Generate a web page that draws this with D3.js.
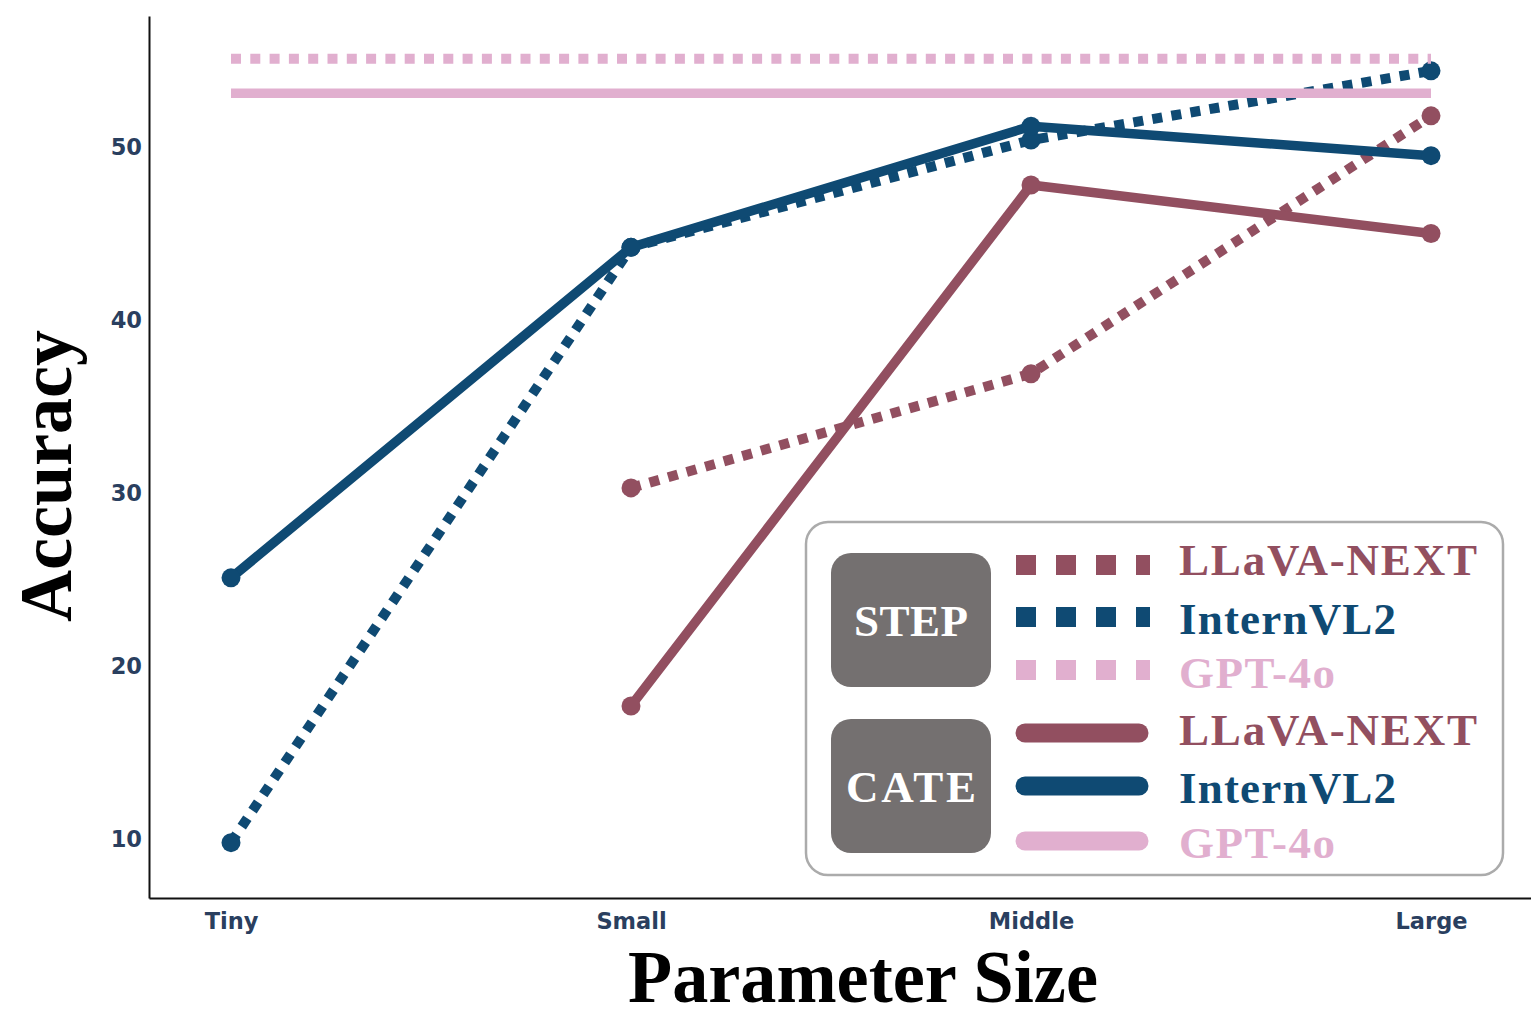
<!DOCTYPE html>
<html>
<head>
<meta charset="utf-8">
<script src="https://cdn.jsdelivr.net/npm/d3@7"></script>
<style>
  html, body { margin: 0; padding: 0; background: #ffffff; }
  svg { display: block; }
</style>
</head>
<body>
<svg id="chart" width="1531" height="1010"></svg>
<script>
// ---------------- data ----------------
const categories = ["Tiny", "Small", "Middle", "Large"];
const yTicks = [10, 20, 30, 40, 50];

const stepLLaVA      = [null, 30.3, 36.9, 51.8];
const stepInternVL2  = [9.8, 44.2, 50.4, 54.4];
const stepGPT4o      = [55.1, 55.1, 55.1, 55.1];
const cateLLaVA      = [null, 17.7, 47.8, 45.0];
const cateInternVL2  = [25.1, 44.2, 51.2, 49.5];
const cateGPT4o      = [53.1, 53.1, 53.1, 53.1];

const modelNames = ["LLaVA-NEXT", "InternVL2", "GPT-4o"];
const groupNames = ["STEP", "CATE"];

// ---------------- styling ----------------
const colors = { "LLaVA-NEXT": "#924f60", "InternVL2": "#0f4a73", "GPT-4o": "#e1afcf" };
const tickColor = "#2a3f5f";

const series = [
  { group: "STEP", model: "LLaVA-NEXT", values: stepLLaVA, markers: true },
  { group: "STEP", model: "InternVL2", values: stepInternVL2, markers: true },
  { group: "STEP", model: "GPT-4o", values: stepGPT4o, markers: false },
  { group: "CATE", model: "LLaVA-NEXT", values: cateLLaVA, markers: true },
  { group: "CATE", model: "InternVL2", values: cateInternVL2, markers: true },
  { group: "CATE", model: "GPT-4o", values: cateGPT4o, markers: false }
];

const svg = d3.select("#chart");
const plot = { left: 149, right: 1531, top: 16, bottom: 898 };

const x = d3.scaleLinear().domain([-0.205, 3.25]).range([plot.left, plot.right]);
const y = d3.scaleLinear().domain([6.6, 57.57]).range([plot.bottom, plot.top]);

// axes
const yAxis = d3.axisLeft(y).tickValues(yTicks).tickSize(0).tickPadding(7);
const gy = svg.append("g").attr("transform", `translate(${plot.left},0)`).call(yAxis);
gy.select(".domain").attr("stroke", "#111").attr("stroke-width", 2);
gy.selectAll("text")
  .attr("fill", tickColor)
  .style("font-family", "'DejaVu Sans', Verdana, sans-serif")
  .style("font-weight", "bold")
  .style("font-size", "22.5px");

const xAxis = d3.axisBottom(x).tickValues(d3.range(categories.length))
  .tickFormat(i => categories[i]).tickSize(0).tickPadding(15);
const gx = svg.append("g").attr("transform", `translate(0,${plot.bottom})`).call(xAxis);
gx.select(".domain").attr("stroke", "#111").attr("stroke-width", 2);
gx.selectAll("text")
  .attr("fill", tickColor)
  .style("font-family", "'DejaVu Sans', Verdana, sans-serif")
  .style("font-weight", "bold")
  .style("font-size", "22.5px");

// axis titles
svg.append("text")
  .attr("x", 863).attr("y", 1002)
  .attr("text-anchor", "middle")
  .attr("textLength", 470).attr("lengthAdjust", "spacingAndGlyphs")
  .style("font-family", "'Liberation Serif', 'Times New Roman', serif")
  .style("font-weight", "bold").style("font-size", "75px")
  .attr("fill", "#000").text("Parameter Size");

svg.append("text")
  .attr("transform", "translate(71,476) rotate(-90)")
  .attr("text-anchor", "middle")
  .attr("textLength", 292).attr("lengthAdjust", "spacingAndGlyphs")
  .style("font-family", "'Liberation Serif', 'Times New Roman', serif")
  .style("font-weight", "bold").style("font-size", "74px")
  .attr("fill", "#000").text("Accuracy");

// lines
const line = d3.line()
  .defined(d => d.v !== null)
  .x(d => x(d.i)).y(d => y(d.v));

const linesG = svg.append("g");
series.forEach(s => {
  const pts = s.values.map((v, i) => ({ i, v }));
  const path = linesG.append("path")
    .datum(pts)
    .attr("d", line)
    .attr("fill", "none")
    .attr("stroke", colors[s.model])
    .attr("stroke-width", s.group === "STEP" ? 10 : 9.5)
    .attr("stroke-linejoin", "round");
  if (s.group === "STEP") {
    path.attr("stroke-dasharray", "10,9.3");
  }
  if (s.markers) {
    linesG.selectAll(null)
      .data(pts.filter(d => d.v !== null))
      .enter().append("circle")
      .attr("cx", d => x(d.i)).attr("cy", d => y(d.v))
      .attr("r", 9.5)
      .attr("fill", colors[s.model]);
  }
});

// legend
const lg = svg.append("g");
lg.append("rect")
  .attr("x", 806).attr("y", 522).attr("width", 697).attr("height", 353)
  .attr("rx", 22).attr("ry", 22)
  .attr("fill", "#fff").attr("stroke", "#ababab").attr("stroke-width", 2.5);

const groupBoxes = [
  { name: "STEP", y0: 553, base: 636, len: 114 },
  { name: "CATE", y0: 719, base: 802, len: 130 }
];
groupBoxes.forEach(g => {
  lg.append("rect")
    .attr("x", 831).attr("y", g.y0).attr("width", 160).attr("height", 134)
    .attr("rx", 20).attr("ry", 20).attr("fill", "#747070");
  lg.append("text")
    .attr("x", 911).attr("y", g.base).attr("text-anchor", "middle")
    .attr("textLength", g.len).attr("lengthAdjust", "spacing")
    .style("font-family", "'Liberation Serif', 'Times New Roman', serif")
    .style("font-weight", "bold").style("font-size", "45px")
    .attr("fill", "#fff").text(g.name);
});

const legendRows = [
  { group: "STEP", model: "LLaVA-NEXT", cy: 565, base: 575, len: 298 },
  { group: "STEP", model: "InternVL2", cy: 617, base: 634, len: 217 },
  { group: "STEP", model: "GPT-4o", cy: 670, base: 688, len: 156 },
  { group: "CATE", model: "LLaVA-NEXT", cy: 733, base: 745, len: 298 },
  { group: "CATE", model: "InternVL2", cy: 786, base: 803, len: 217 },
  { group: "CATE", model: "GPT-4o", cy: 841, base: 858, len: 156 }
];
legendRows.forEach(r => {
  if (r.group === "STEP") {
    lg.append("line")
      .attr("x1", 1016).attr("x2", 1150).attr("y1", r.cy).attr("y2", r.cy)
      .attr("stroke", colors[r.model]).attr("stroke-width", 20)
      .attr("stroke-dasharray", "20,20");
  } else {
    lg.append("line")
      .attr("x1", 1025).attr("x2", 1139).attr("y1", r.cy).attr("y2", r.cy)
      .attr("stroke", colors[r.model]).attr("stroke-width", 19)
      .attr("stroke-linecap", "round");
  }
  lg.append("text")
    .attr("x", 1179).attr("y", r.base)
    .attr("textLength", r.len).attr("lengthAdjust", "spacing")
    .style("font-family", "'Liberation Serif', 'Times New Roman', serif")
    .style("font-weight", "bold").style("font-size", "45px")
    .attr("fill", colors[r.model]).text(r.model);
});
</script>
</body>
</html>
